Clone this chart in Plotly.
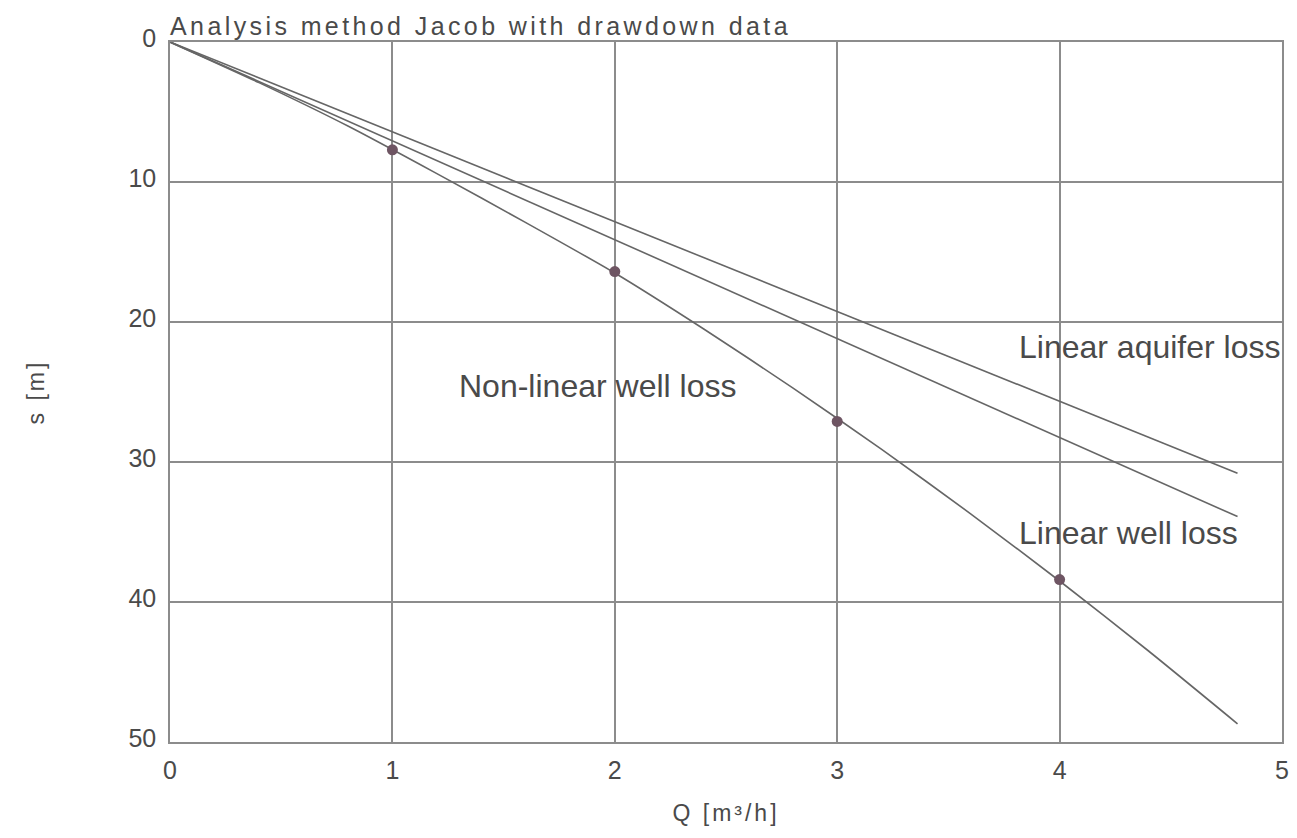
import plotly.graph_objects as go

# Data
Q_line = [0, 4.8]
s_aquifer = [0, 30.8]
s_well = [0, 33.9]
Q_curve = [0, 0.4, 0.8, 1.2, 1.6, 2.0, 2.4, 2.8, 3.2, 3.6, 4.0, 4.4, 4.8]
s_curve = [0, 2.9, 6.0, 9.4, 12.9, 16.5, 20.5, 24.7, 29.1, 33.7, 38.5, 43.5, 48.7]
Q_obs = [1, 2, 3, 4]
s_obs = [7.7, 16.4, 27.1, 38.4]
x_ticks = [0, 1, 2, 3, 4, 5]
y_ticks = [0, 10, 20, 30, 40, 50]

LINE = "#666666"
GRID = "#8c8c8c"
TXT = "#4a4a4a"
FONT = "Liberation Sans, Arial, sans-serif"

fig = go.Figure()
fig.add_trace(go.Scatter(x=Q_line, y=s_aquifer, mode="lines",
                         line=dict(color=LINE, width=1.6), showlegend=False))
fig.add_trace(go.Scatter(x=Q_line, y=s_well, mode="lines",
                         line=dict(color=LINE, width=1.6), showlegend=False))
fig.add_trace(go.Scatter(x=Q_curve, y=s_curve, mode="lines",
                         line=dict(color=LINE, width=1.6, shape="spline", smoothing=0.6),
                         showlegend=False))
fig.add_trace(go.Scatter(x=Q_obs, y=s_obs, mode="markers",
                         marker=dict(color="#6e5563", size=11), showlegend=False))

fig.update_layout(
    width=1297, height=838,
    margin=dict(l=170, r=8, t=42, b=96),
    paper_bgcolor="white", plot_bgcolor="white",
    font=dict(family=FONT, color=TXT),
    xaxis=dict(range=[0, 5], tickvals=x_ticks, ticktext=[str(v) for v in x_ticks],
               showgrid=True, gridcolor=GRID, gridwidth=1.5,
               showline=True, linecolor=GRID, linewidth=1.5, mirror=True,
               zeroline=False, ticks="", tickfont=dict(size=25, color=TXT),
               ticklabelstandoff=5,
               title=dict(text='<span style="letter-spacing:3px">Q [m³/h]</span>',
                          font=dict(size=23, color=TXT), standoff=22)),
    yaxis=dict(range=[50, 0], tickvals=y_ticks, ticktext=[str(v) for v in y_ticks],
               showgrid=True, gridcolor=GRID, gridwidth=1.5,
               showline=True, linecolor=GRID, linewidth=1.5, mirror=True,
               zeroline=False, ticks="", tickfont=dict(size=25, color=TXT),
               ticklabelstandoff=7, ticklabelshift=4,
               title=dict(text='<span style="letter-spacing:3px">s [m]</span>',
                          font=dict(size=23, color=TXT), standoff=77)),
    annotations=[
        dict(text='<span style="letter-spacing:3.4px">Analysis method Jacob with drawdown data</span>',
             xref="paper", yref="paper", x=-0.002, y=1, xanchor="left", yanchor="bottom",
             showarrow=False, font=dict(size=25, color=TXT), yshift=0),
        dict(text="Linear aquifer loss", x=3.81, y=21.8, xanchor="left", yanchor="middle",
             showarrow=False, font=dict(size=32, color=TXT)),
        dict(text="Linear well loss", x=3.81, y=35.1, xanchor="left", yanchor="middle",
             showarrow=False, font=dict(size=32, color=TXT)),
        dict(text="Non-linear well loss", x=1.29, y=24.6, xanchor="left", yanchor="middle",
             showarrow=False, font=dict(size=32, color=TXT)),
    ],
)

fig.write_html("out.html")
